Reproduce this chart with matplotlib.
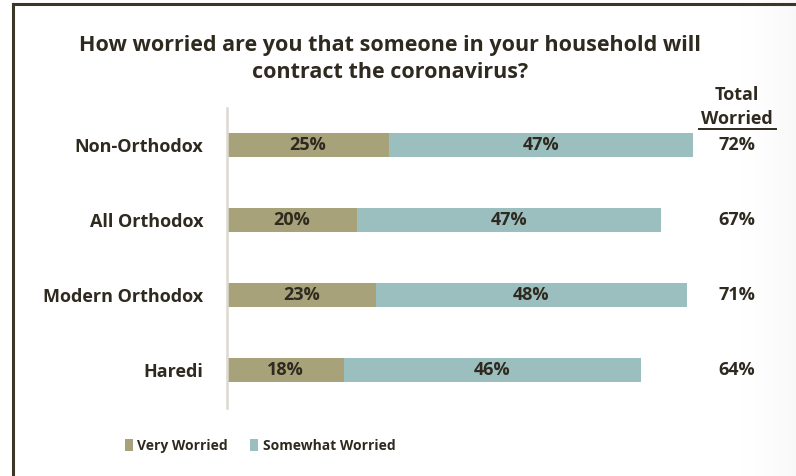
import numpy as np
import matplotlib
matplotlib.use("Agg")
import matplotlib.pyplot as plt
import matplotlib.transforms as mtransforms
from matplotlib.lines import Line2D

plt.rcParams['font.family'] = ['Open Sans', 'DejaVu Sans']

# data
groups = ['Non-Orthodox', 'All Orthodox', 'Modern Orthodox', 'Haredi']
very_worried = [25, 20, 23, 18]
somewhat_worried = [47, 47, 48, 46]
total_worried = [72, 67, 71, 64]

olive = '#a8a27a'
teal = '#9bbfbf'
ink = '#2f2a20'

W, H = 796, 476
fig = plt.figure(figsize=(W / 100, H / 100), dpi=100)

# faint shadow on the right edge, like the slide it came from
bg = fig.add_axes([720 / W, 0, 76 / W, 1], zorder=-5)
grad = np.linspace(0, 1, 100)[None, :] ** 2
bg.imshow(grad, aspect='auto', cmap='Greys', vmin=0, vmax=18, extent=[0, 1, 0, 1])
bg.axis('off')

ax = fig.add_axes([227 / W, 68.5 / H, 518 / W, 300 / H])
y = np.arange(len(groups))
b1 = ax.barh(y, very_worried, height=0.32, color=olive, label='Very Worried')
b2 = ax.barh(y, somewhat_worried, left=very_worried, height=0.32, color=teal,
             label='Somewhat Worried')

# total column sits at a fixed spot on the figure, rows follow the bars
tot_trans = mtransforms.blended_transform_factory(fig.transFigure, ax.transData)

for i in range(len(groups)):
    ax.text(very_worried[i] / 2, y[i], f'{very_worried[i]}%', ha='center', va='center',
            fontsize=13, fontweight='bold', color=ink)
    ax.text(very_worried[i] + somewhat_worried[i] / 2, y[i], f'{somewhat_worried[i]}%',
            ha='center', va='center', fontsize=13, fontweight='bold', color=ink)
    ax.text(737 / W, y[i], f'{total_worried[i]}%', transform=tot_trans,
            ha='center', va='center', fontsize=13, fontweight='bold', color=ink)

ax.set_xlim(0, 80)
ax.set_ylim(3.5, -0.5)
ax.set_yticks(y)
ax.set_yticklabels(groups, fontsize=13, fontweight='bold', color=ink)
ax.tick_params(axis='y', length=0, pad=17)
ax.set_xticks([])
for s in ['top', 'right', 'bottom']:
    ax.spines[s].set_visible(False)
ax.spines['left'].set_color('#dcd9d0')
ax.spines['left'].set_linewidth(1.8)
ax.patch.set_alpha(0)

fig.text(390 / W, 1 - 45 / H, 'How worried are you that someone in your household will',
         ha='center', va='center', fontsize=15.5, fontweight='bold', color=ink)
fig.text(390 / W, 1 - 73 / H, 'contract the coronavirus?',
         ha='center', va='center', fontsize=15.5, fontweight='bold', color=ink)

fig.text(737 / W, 1 - 95 / H, 'Total', ha='center', va='center',
         fontsize=13, fontweight='bold', color=ink)
fig.text(737 / W, 1 - 119 / H, 'Worried', ha='center', va='center',
         fontsize=13, fontweight='bold', color=ink)
fig.add_artist(Line2D([699 / W, 776 / W], [1 - 129 / H, 1 - 129 / H],
                      transform=fig.transFigure, color=ink, lw=1.4))

# slide frame
fig.add_artist(Line2D([13 / W, 13 / W], [0, 1 - 4 / H], transform=fig.transFigure,
                      color='#3b3627', lw=2.2))
fig.add_artist(Line2D([13 / W, 1], [1 - 4 / H, 1 - 4 / H], transform=fig.transFigure,
                      color='#3b3627', lw=2.2))

leg = fig.legend(handles=[b1, b2], loc='center', bbox_to_anchor=(260 / W, 1 - 446 / H),
                 ncol=2, frameon=False, handlelength=0.6, handleheight=0.9,
                 handletextpad=0.3, columnspacing=1.6,
                 prop={'size': 10, 'weight': 'bold'})
for t in leg.get_texts():
    t.set_color(ink)

fig.savefig('out.png', dpi=100)
